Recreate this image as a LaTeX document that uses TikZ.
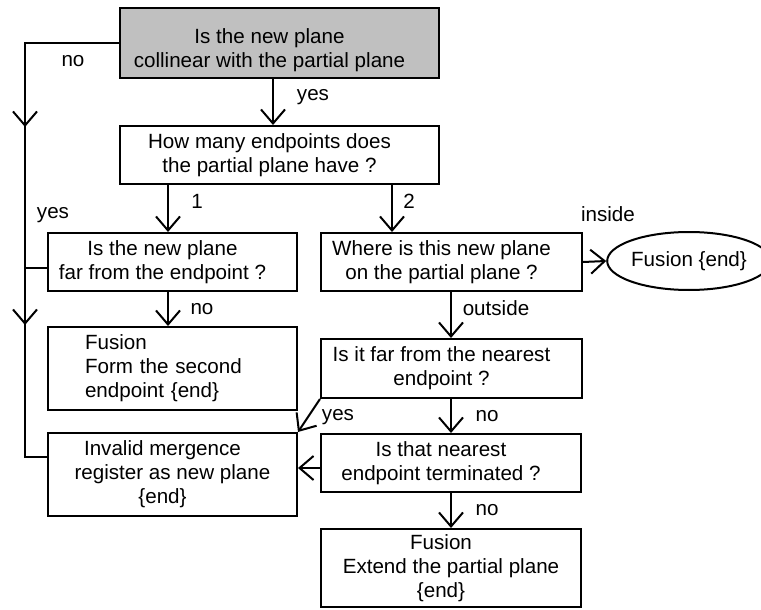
\documentclass[tikz,border=0pt]{standalone}
\usepackage{fontspec}
\setmainfont{Liberation Sans}
\usetikzlibrary{arrows.meta,shapes.geometric}
\definecolor{boxgray}{RGB}{192,192,192}
\newcommand{\padR}{\hspace*{20pt}}
\begin{document}
\begin{tikzpicture}[x=1pt,y=-1pt,
  every node/.style={font=\fontsize{20.6}{24}\selectfont},
  box/.style={draw, line width=2pt, inner sep=0pt, align=center},
  lbl/.style={inner sep=0pt},
  ln/.style={line width=2pt},
  arr/.style={line width=2pt, -{Straight Barb[length=14pt,width=24pt]}}]
\useasboundingbox (0,0) rectangle (761,610);

% boxes
\node[box, fill=boxgray, minimum width=319pt, minimum height=70pt] (q1) at (279.5,43)
  {\rule{0pt}{28.8pt}Is the new plane\padR\\collinear with the partial plane\padR};
\node[box, minimum width=319pt, minimum height=58pt] (q2) at (279.5,155)
  {How many endpoints does\padR\\the partial plane have ?\padR};
\node[box, minimum width=249pt, minimum height=58pt] (q3) at (172.5,262)
  {Is the new plane\padR\\far from the endpoint ?\padR};
\node[box, minimum width=249pt, minimum height=83pt, text width=175pt, align=left] (f1) at (172.5,368.5)
  {Fusion\\Form the second\\endpoint \{end\}};
\node[box, minimum width=261pt, minimum height=58pt] (q5) at (451.5,262)
  {Where is this new plane\padR\\on the partial plane ?\padR};
\node[draw, ellipse, line width=2pt, inner sep=0pt, minimum width=142pt, minimum height=58pt] (e1) at (689,261)
  {Fusion \{end\}};
\node[box, minimum width=261pt, minimum height=59pt] (q6) at (451.5,368.5)
  {Is it far from the nearest\padR\\endpoint ?\padR};
\node[box, minimum width=249pt, minimum height=83pt] (inv) at (172.5,474.5)
  {Invalid mergence\padR\\register as new plane\padR\\\{end\}\padR};
\node[box, minimum width=260pt, minimum height=58pt] (q8) at (451,463)
  {Is that nearest\padR\\endpoint terminated ?\padR};
\node[box, minimum width=260pt, minimum height=78pt] (f2) at (451,568)
  {Fusion\padR\\Extend the partial plane\padR\\\{end\}\padR};

% helper coordinates
\coordinate (xa) at (273,0);
\coordinate (xb) at (168,0);
\coordinate (xc) at (392,0);
\coordinate (xd) at (451,0);
\coordinate (y468) at (0,468);
\coordinate (L0) at (25,43);
\coordinate (La1) at (25,127);
\coordinate (La2) at (25,325);
\coordinate (Ly) at (25,268);
\coordinate (L1) at (25,457);

% connectors
\draw[arr] (q1.south -| xa) -- (q2.north -| xa);
\draw[arr] (q2.south -| xb) -- (q3.north -| xb);
\draw[arr] (q2.south -| xc) -- (q5.north -| xc);
\draw[arr] (q3.south -| xb) -- (f1.north -| xb);
\draw[arr] (q5.east) -- (e1.west);
\draw[arr] (q5.south -| xd) -- (q6.north -| xd);
\draw[arr] (q6.south -| xd) -- (q8.north -| xd);
\draw[arr] (q6.south west) -- (inv.north east);
\draw[arr] (q8.west |- y468) -- (inv.east |- y468);
\draw[arr] (q8.south -| xd) -- (f2.north -| xd);
\draw[ln] (q1.west |- L0) -- (L0) -- (L1) -- (inv.west |- L1);
\draw[arr] (L0) -- (La1);
\draw[arr] (La1) -- (La2);
\draw[ln] (q3.west |- Ly) -- (Ly);

% labels
\node[lbl] (l1) at (73,61) {no};
\node[lbl] (l2) at (313,97) {yes};
\node[lbl] (l3) at (197,201.5) {1};
\node[lbl] (l4) at (53,215) {yes};
\node[lbl] (l5) at (409,201.5) {2};
\node[lbl] (l6) at (608,214.5) {inside};
\node[lbl] (l7) at (202,309) {no};
\node[lbl] (l8) at (496,308.5) {outside};
\node[lbl] (l9) at (338,417) {yes};
\node[lbl] (l10) at (487,416) {no};
\node[lbl] (l11) at (487,510) {no};
\end{tikzpicture}
\end{document}
